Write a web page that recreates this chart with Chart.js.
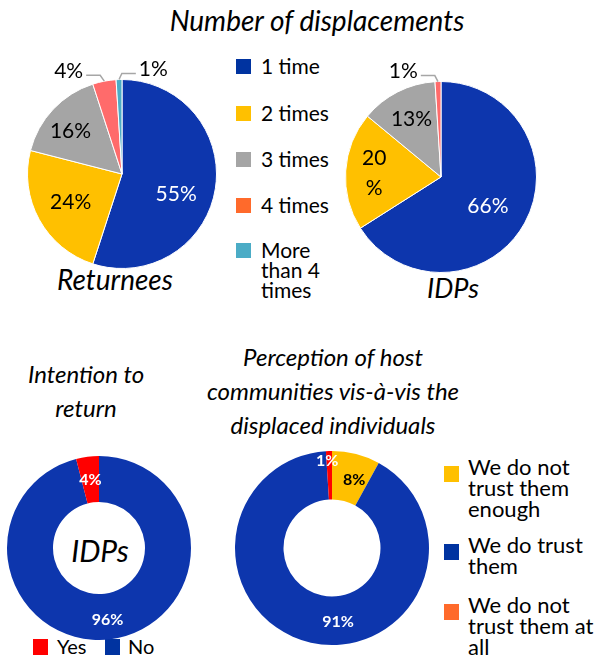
<!DOCTYPE html>
<html>
<head>
<meta charset="utf-8">
<script src="https://cdn.jsdelivr.net/npm/chart.js@4.4.0/dist/chart.umd.min.js"></script>
<style>
    body { margin: 0; width: 610px; height: 657px; position: relative; background: #fff; font-family: Lato, sans-serif; color: #000; overflow: hidden; }
    canvas { position: absolute; }
    .txt { position: absolute; transform: translate(-50%, -50%); white-space: nowrap; text-align: center; }
    .ttl { font-style: italic; font-size: 24px; line-height: 34px; }
    .leg { position: absolute; font-size: 21px; line-height: 20px; }
    .leg .sq { position: absolute; width: 15px; height: 15px; }
    .leg2 { position: absolute; font-size: 22px; line-height: 21px; }
    .leg2 .sq { position: absolute; width: 15px; height: 16px; }
    .leg3 { position: absolute; font-size: 20px; line-height: 21px; }
    .leg3 .sq { position: absolute; width: 15px; height: 16px; }
</style>
</head>
<body>

<div class="txt ttl" style="left:317px; top:20px; font-size:28px;">Number of displacements</div>
<div class="txt ttl" style="left:115px; top:279px; font-size:28px;">Returnees</div>
<div class="txt ttl" style="left:453px; top:288px; font-size:27px;">IDPs</div>
<div class="txt ttl" style="left:86px; top:391px;">Intention to<br>return</div>
<div class="txt ttl" style="left:333px; top:391px;">Perception of host<br>communities vis-à-vis the<br>displaced individuals</div>
<div class="txt ttl" style="left:100px; top:550px; font-size:30px;">IDPs</div>

<div id="legTop"></div>
<div id="legInt"></div>
<div id="legHost"></div>

<canvas id="returneesChart"></canvas>
<canvas id="idpsChart"></canvas>
<canvas id="intentionChart"></canvas>
<canvas id="hostChart"></canvas>

<script>
// Number of displacements
const displacementLabels = ['1 time', '2 times', '3 times', '4 times', 'More than 4 times'];
const returneesValues = [55, 24, 16, 4, 1];
const idpsValues = [66, 20, 13, 1, 0];

// Intention to return (IDPs)
const intentionLabels = ['No', 'Yes'];
const intentionValues = [96, 4];

// Perception of host communities
const hostLabels = ['We do not trust them enough', 'We do trust them', 'We do not trust them at all'];
const hostValues = [8, 91, 1];

const BLUE = '#0D36AD';
const sliceColors = [BLUE, '#FFC000', '#A5A5A5', '#FF6B6B', '#4BACC6'];
const legendColors = ['#0033A0', '#FFC000', '#A5A5A5', '#FF6A2B', '#4BACC6'];

// draws the % labels on (or next to) each slice
const sliceLabels = {
    id: 'sliceLabels',
    afterDatasetsDraw(chart, args, opts) {
        const ctx = chart.ctx;
        const values = chart.data.datasets[0].data;
        chart.getDatasetMeta(0).data.forEach((arc, i) => {
            const v = values[i];
            if (!v) return;
            const st = (opts.items || {})[i] || {};
            const p = arc.getProps(['x', 'y', 'startAngle', 'endAngle', 'innerRadius', 'outerRadius'], true);
            const mid = (p.startAngle + p.endAngle) / 2;
            const cos = Math.cos(mid), sin = Math.sin(mid);
            ctx.save();
            ctx.font = opts.font;
            ctx.fillStyle = st.color || opts.color;
            ctx.textBaseline = 'middle';
            const text = v + '%';
            if (st.side) {
                const ex = p.x + cos * p.outerRadius, ey = p.y + sin * p.outerRadius;
                const kx = p.x + cos * (p.outerRadius + 6) + st.side * 3, ky = p.y + sin * (p.outerRadius + 6);
                const hx = kx + st.side * 14;
                ctx.strokeStyle = '#A6A6A6';
                ctx.lineWidth = 1.5;
                ctx.beginPath();
                ctx.moveTo(ex, ey);
                ctx.lineTo(kx, ky);
                ctx.lineTo(hx, ky);
                ctx.stroke();
                ctx.textAlign = st.side < 0 ? 'right' : 'left';
                ctx.fillText(text, hx + st.side * 3, ky - 4);
            } else {
                const pos = st.pos != null ? st.pos : opts.pos;
                const rr = p.innerRadius + (p.outerRadius - p.innerRadius) * pos;
                const x = p.x + cos * rr + (st.dx || 0);
                const y = p.y + sin * rr + (st.dy || 0);
                ctx.textAlign = 'center';
                if (st.wrap) {
                    ctx.fillText(String(v), x, y - 15);
                    ctx.fillText('%', x, y + 15);
                } else {
                    ctx.fillText(text, x, y);
                }
            }
            ctx.restore();
        });
    }
};

// put canvas on the page and return padding so that the pie lands at (cx, cy) with radius r
function place(id, left, top, w, h, cx, cy, r) {
    const c = document.getElementById(id);
    c.width = w; c.height = h;
    c.style.left = left + 'px'; c.style.top = top + 'px';
    return { left: cx - r - left, top: cy - r - top, right: left + w - (cx + r), bottom: top + h - (cy + r) };
}

function makeChart(id, box, type, labels, values, colors, cutout, border, labelOpts) {
    return new Chart(document.getElementById(id), {
        type: type,
        data: {
            labels: labels,
            datasets: [{
                data: values,
                backgroundColor: colors,
                borderColor: '#fff',
                borderWidth: border
            }]
        },
        options: {
            responsive: false,
            animation: false,
            cutout: cutout,
            layout: { padding: box },
            plugins: {
                legend: { display: false },
                tooltip: { enabled: false },
                sliceLabels: labelOpts
            }
        },
        plugins: [sliceLabels]
    });
}

// Returnees pie
makeChart('returneesChart', place('returneesChart', 0, 45, 235, 250, 122, 174, 95), 'pie',
    displacementLabels, returneesValues, sliceColors, 0, 1, {
        font: '21px Lato', color: '#000', pos: 0.62,
        items: { 0: { color: '#fff', pos: 0.58, dy: 12 }, 2: { pos: 0.66, dx: -6 }, 3: { side: -1 }, 4: { side: 1 } }
    });

// IDPs pie
makeChart('idpsChart', place('idpsChart', 340, 45, 270, 245, 441, 177, 96), 'pie',
    displacementLabels, idpsValues, sliceColors, 0, 1, {
        font: '21px Lato', color: '#000', pos: 0.62,
        items: { 0: { color: '#fff', pos: 0.56, dy: 3 }, 1: { pos: 0.70, wrap: true }, 2: { pos: 0.68 }, 3: { side: -1 } }
    });

// Intention to return doughnut
makeChart('intentionChart', place('intentionChart', 0, 450, 200, 190, 99, 548, 92), 'doughnut',
    intentionLabels, intentionValues, [BLUE, '#FF0000'], '50%', 0, {
        font: 'bold 16px Lato', color: '#fff', pos: 0.5,
        items: { 0: { dy: 3 } }
    });

// Host communities doughnut
makeChart('hostChart', place('hostChart', 230, 445, 205, 205, 332, 548, 97), 'doughnut',
    hostLabels, hostValues, ['#FFC000', BLUE, '#FF0000'], '50%', 0, {
        font: 'bold 16px Lato', color: '#fff', pos: 0.5,
        items: { 0: { color: '#000', dx: 4, dy: 2 }, 1: { dx: 22, dy: 3 }, 2: { pos: 0.8, dx: -2 } }
    });

// legends
function legend(el, cls, items) {
    el.innerHTML = items.map(it =>
        `<div class="${cls}" style="left:${it.x}px; top:${it.y}px;">` +
        `<div class="sq" style="left:${it.sx}px; top:${it.sy}px; background:${it.c};"></div>` +
        `<div style="margin-left:${it.tx}px">${it.t}</div></div>`).join('');
}

const topY = [56, 103, 149, 195, 240];
legend(document.getElementById('legTop'), 'leg', displacementLabels.map((t, i) => ({
    x: 236, y: topY[i], sx: 0, sy: 3, tx: 25, c: legendColors[i],
    t: i === 4 ? 'More<br>than 4<br>times' : t
})));

legend(document.getElementById('legInt'), 'leg3', [
    { x: 33, y: 636, sx: 0, sy: 3, tx: 24, c: '#FF0000', t: 'Yes' },
    { x: 105, y: 636, sx: 0, sy: 3, tx: 23, c: '#0033A0', t: 'No' }
]);

const hostY = [456, 534, 594];
const hostText = ['We do not<br>trust them<br>enough', 'We do trust<br>them', 'We do not<br>trust them at<br>all'];
legend(document.getElementById('legHost'), 'leg2', hostText.map((t, i) => ({
    x: 444, y: hostY[i], sx: 0, sy: 10, tx: 24, c: ['#FFC000', '#0033A0', '#FF6A2B'][i], t: t
})));
</script>
</body>
</html>
